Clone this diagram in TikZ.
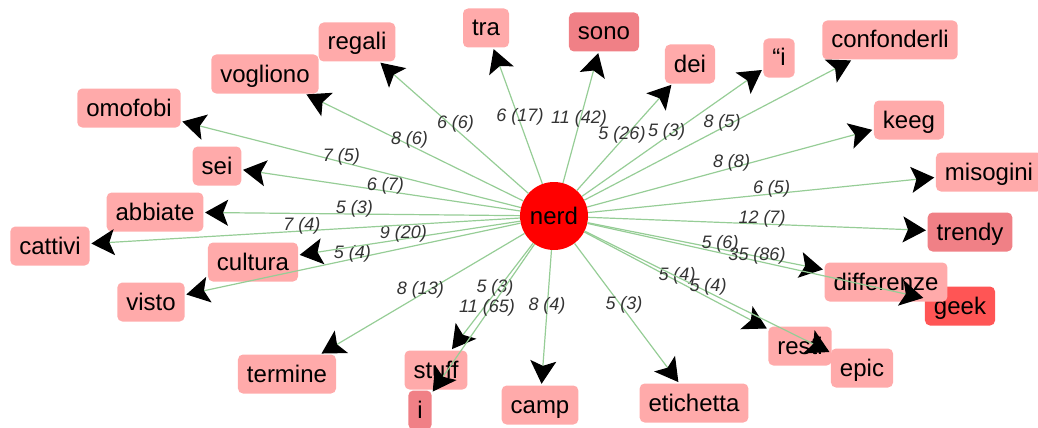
\documentclass[tikz,border=0pt]{standalone}
\usepackage{fontspec}
\setmainfont{Liberation Sans}
\usetikzlibrary{arrows.meta}
\definecolor{pinkA}{RGB}{255,170,170}
\definecolor{pinkB}{RGB}{240,128,134}
\definecolor{redB}{RGB}{255,85,85}
\definecolor{edgegreen}{RGB}{150,205,150}
\begin{document}
\begin{tikzpicture}[x=1pt,y=-1pt,
  wbox/.style={fill=pinkA, rounded corners=5pt, minimum height=39pt, inner xsep=9pt, inner ysep=0pt, font=\fontsize{24}{24}\selectfont, text height=19pt, text depth=3pt},
  darkbox/.style={wbox, fill=pinkB},
  geekbox/.style={wbox, fill=redB},
  hub/.style={circle, fill=red, minimum size=68pt, inner sep=0pt, font=\fontsize{24}{24}\selectfont, text height=19pt, text depth=3pt},
  edge/.style={draw=edgegreen, line width=1.2pt, shorten >=1.5pt, -{Stealth[length=23pt,width=26pt,inset=5pt,color=black]}},
  lbl/.style={font=\itshape\fontsize{18}{18}\selectfont, text=black!80, inner sep=0pt, yshift=5pt}
]
\useasboundingbox (0,0) rectangle (1038,428);

\node[hub] (nerd) at (554,216) {nerd};

\node[wbox] (tra) at (486,28) {tra};
\node[darkbox] (sono) at (604,32) {sono};
\node[wbox] (dei) at (690,64) {dei};
\node[wbox] (qi) at (779,58) {“i};
\node[wbox] (confonderli) at (890,40) {confonderli};
\node[wbox] (keeg) at (909,120) {keeg};
\node[wbox] (misogini) at (989,172) {misogini};
\node[darkbox] (trendy) at (970,232) {trendy};
\node[geekbox] (geek) at (960,306) {geek};
\node[wbox] (differenze) at (886,282) {differenze};
\node[wbox] (resti) at (800,346) {resti};
\node[wbox] (epic) at (862,368) {epic};
\node[wbox] (etichetta) at (694,403) {etichetta};
\node[wbox] (camp) at (540,405) {camp};
\node[wbox] (stuff) at (436,370) {stuff};
\node[darkbox] (ii) at (420,410) {i};
\node[wbox] (termine) at (287,374) {termine};
\node[wbox] (visto) at (151,302) {visto};
\node[wbox] (cultura) at (253,262) {cultura};
\node[wbox] (cattivi) at (50,246) {cattivi};
\node[wbox] (abbiate) at (155,212) {abbiate};
\node[wbox] (sei) at (217,166) {sei};
\node[wbox] (omofobi) at (129,108) {omofobi};
\node[wbox] (vogliono) at (265,74) {vogliono};
\node[wbox] (regali) at (357,42) {regali};

\foreach \n/\l in {tra/6 (17), sono/11 (42), dei/5 (26), qi/5 (3), confonderli/8 (5),
  keeg/8 (8), misogini/6 (5), trendy/12 (7), differenze/5 (6), geek/35 (86),
  resti/5 (4), epic/5 (4), etichetta/5 (3), camp/8 (4), stuff/5 (3), ii/11 (65),
  termine/8 (13), visto/5 (4), cultura/9 (20), cattivi/7 (4), abbiate/5 (3),
  sei/6 (7), omofobi/7 (5), vogliono/8 (6), regali/6 (6)} {
  \draw[edge] (nerd) -- (\n);
  \path (nerd.center) -- (\n.center) node[lbl, midway] {\l};
}
\end{tikzpicture}
\end{document}
